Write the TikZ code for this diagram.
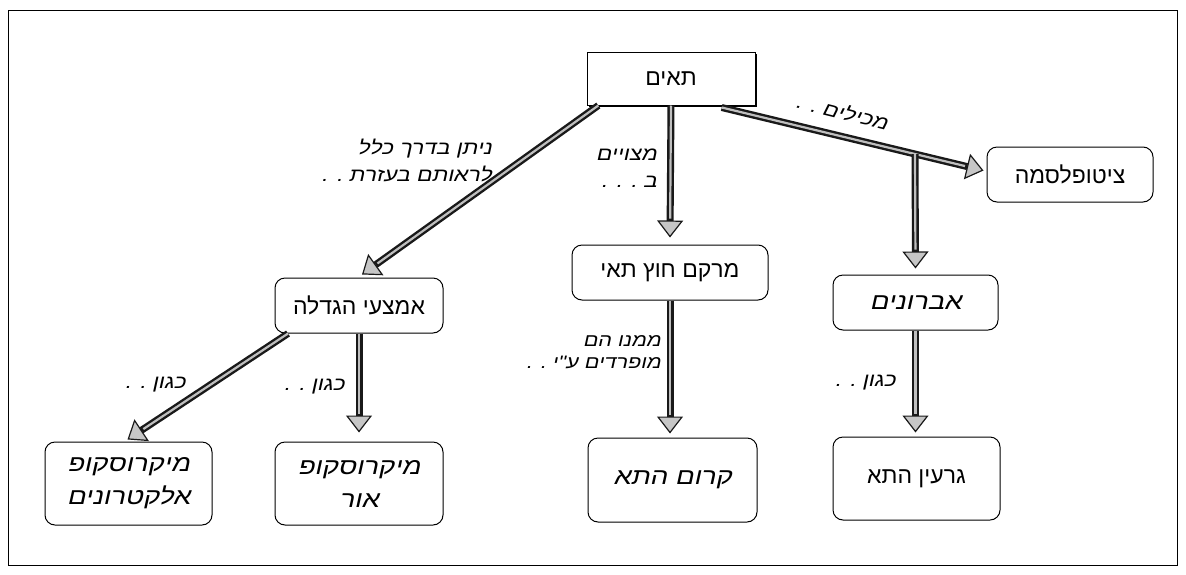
\documentclass[tikz,border=0pt]{standalone}
\usepackage{fontspec}
\usetikzlibrary{arrows.meta,calc,shadows}
\TeXXeTstate=1
\newfontfamily\hebfont[Script=Hebrew]{Liberation Sans}
\newfontfamily\handfont[Script=Hebrew,FakeSlant=0.22,FakeStretch=1.2]{Liberation Sans}
\newcommand\hebR[1]{\beginR #1\endR}
\tikzset{
  box/.style={draw=black, line width=1pt, rounded corners=10pt, fill=white,
    inner sep=0pt, align=center, font=\hebfont\fontsize{23}{27}\selectfont},
  hbox/.style={box, font=\handfont\fontsize{23}{33}\selectfont},
  topbox/.style={draw=black, line width=1pt, fill=white, inner sep=0pt,
    font=\hebfont\fontsize{23}{27}\selectfont,
    drop shadow={shadow xshift=2pt, shadow yshift=-2pt, fill=black, opacity=1}},
  lbl/.style={inner sep=0pt, align=right, font=\handfont\fontsize{19}{27}\selectfont},
  conn/.style={draw=black!90, line width=7pt,
    -{Triangle[length=17pt, width=26pt, line width=1.2pt, fill=gray!45]},
    postaction={draw=gray!50, line width=2.2pt, shorten >=19pt, -}},
}
\begin{document}
\begin{tikzpicture}[x=1pt, y=-1pt]
\useasboundingbox (0,0) rectangle (1186,574);
\draw[line width=0.9pt] (8,10) rectangle (1177,565);

% nodes
\node[topbox, minimum width=168pt, minimum height=53pt] (cells) at (671,78.5) {\hebR{תאים}};
\node[box, minimum width=166pt, minimum height=55pt] (cyto) at (1070,174.5) {\hebR{ציטופלסמה}};
\node[box, minimum width=168pt, minimum height=55pt] (magn) at (359,305.5) {\hebR{אמצעי הגדלה}};
\node[box, minimum width=196pt, minimum height=55pt] (extra) at (670,272.5) {\hebR{מרקם חוץ תאי}};
\node[hbox, minimum width=165pt, minimum height=55pt] (organ) at (915.5,302.5) {\hebR{אברונים}};
\node[hbox, minimum width=167pt, minimum height=83pt] (em) at (128.5,483.5) {\hebR{מיקרוסקופ}\\\hebR{אלקטרונים}};
\node[hbox, minimum width=168pt, minimum height=83pt] (lm) at (359,483.5) {\hebR{מיקרוסקופ}\\\hebR{אור}};
\node[hbox, minimum width=169pt, minimum height=84pt] (membrane) at (672.5,480) {\hebR{קרום התא}};
\node[box, minimum width=167pt, minimum height=83pt] (nucleus) at (916.5,478.5) {\hebR{גרעין התא}};

% connectors
\draw[conn] ($(cells.south west)!0.07!(cells.south east)$) -- ($(magn.north)+(3,-3)$);
\draw[conn] (cells.south) -- ($(extra.north)+(0,-7)$);
\draw[conn] ($(cells.south west)!0.8!(cells.south east)+(0,2)$) -- ($(cyto.west)+(-3,-4)$);
\coordinate (br) at (915,154);
\draw[conn] (br) -- ($(organ.north)+(0,-6)$);
\draw[conn] ($(magn.south west)!0.08!(magn.south east)$) -- ($(em.north)+(-1,-2)$);
\draw[conn] (magn.south) -- ($(lm.north)+(0,-9)$);
\draw[conn] (extra.south) -- ($(extra.south |- membrane.north)+(0,-4)$);
\draw[conn] (organ.south) -- ($(organ.south |- nucleus.north)+(0,-4)$);

% labels
\node[lbl, anchor=east] (l1) at (492,160) {\hebR{ניתן בדרך כלל}\\\hebR{לראותם בעזרת . .}};
\node[lbl, anchor=east] (l2) at (657,168) {\hebR{מצויים}\\\hebR{ב . . .}};
\node[lbl, rotate=-14] (l3) at (842,112) {\hebR{מכילים . .}};
\node[lbl] (l4) at (155,385) {\hebR{כגון . .}};
\node[lbl] (l5) at (314,387) {\hebR{כגון . .}};
\node[lbl, anchor=east, font=\handfont\fontsize{18}{22}\selectfont] (l6) at (661,352) {\hebR{ממנו הם}\\\hebR{מופרדים ע"י . .}};
\node[lbl] (l7) at (865,383) {\hebR{כגון . .}};
\end{tikzpicture}
\end{document}
